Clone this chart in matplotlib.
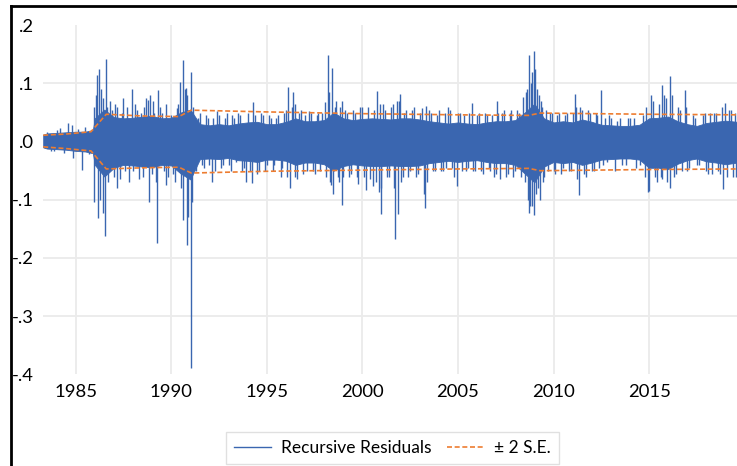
import numpy as np
import matplotlib.pyplot as plt
from matplotlib.lines import Line2D

plt.rcParams['font.family'] = ['Lato', 'DejaVu Sans']

BLUE = '#3A66B0'
ORANGE = '#ED7D31'
GRID = '#EBEBEB'

# dense core of the recursive residuals (upper / lower edge, half-year steps)
band_years = [1983.3, 1983.5, 1984.0, 1984.5, 1985.0, 1985.5, 1985.9, 1986.0, 1986.5, 1987.0,
              1987.5, 1988.0, 1988.5, 1989.0, 1989.5, 1990.0, 1990.5, 1991.0, 1991.5, 1992.0,
              1992.5, 1993.0, 1993.5, 1994.0, 1994.5, 1995.0, 1995.5, 1996.0, 1996.5, 1997.0,
              1997.5, 1998.0, 1998.5, 1999.0, 1999.5, 2000.0, 2000.5, 2001.0, 2001.5, 2002.0,
              2002.5, 2003.0, 2003.5, 2004.0, 2004.5, 2005.0, 2005.5, 2006.0, 2006.5, 2007.0,
              2007.5, 2008.0, 2008.5, 2009.0, 2009.5, 2010.0, 2010.5, 2011.0, 2011.5, 2012.0,
              2012.5, 2013.0, 2013.5, 2014.0, 2014.5, 2015.0, 2015.5, 2016.0, 2016.5, 2017.0,
              2017.5, 2018.0, 2018.5, 2019.0, 2019.6]
band_hi = [0.012, 0.014, 0.015, 0.016, 0.017, 0.017, 0.020, 0.040, 0.055, 0.042,
           0.040, 0.041, 0.043, 0.044, 0.040, 0.041, 0.050, 0.055, 0.030, 0.028,
           0.030, 0.028, 0.031, 0.033, 0.034, 0.030, 0.030, 0.034, 0.040, 0.035,
           0.035, 0.037, 0.050, 0.040, 0.037, 0.039, 0.040, 0.039, 0.038, 0.040,
           0.040, 0.038, 0.035, 0.033, 0.031, 0.033, 0.031, 0.030, 0.033, 0.035,
           0.035, 0.037, 0.050, 0.065, 0.040, 0.033, 0.035, 0.033, 0.038, 0.034,
           0.029, 0.028, 0.027, 0.027, 0.029, 0.040, 0.041, 0.043, 0.035, 0.030,
           0.027, 0.032, 0.034, 0.036, 0.034]
band_lo = [-0.010, -0.012, -0.013, -0.014, -0.016, -0.017, -0.020, -0.040, -0.060, -0.045,
           -0.040, -0.041, -0.043, -0.044, -0.040, -0.041, -0.055, -0.065, -0.030, -0.029,
           -0.030, -0.028, -0.032, -0.033, -0.035, -0.031, -0.031, -0.033, -0.040, -0.036,
           -0.036, -0.039, -0.050, -0.042, -0.039, -0.041, -0.042, -0.042, -0.041, -0.042,
           -0.042, -0.041, -0.037, -0.035, -0.033, -0.035, -0.033, -0.032, -0.035, -0.037,
           -0.037, -0.040, -0.055, -0.070, -0.043, -0.035, -0.037, -0.035, -0.040, -0.036,
           -0.031, -0.030, -0.029, -0.029, -0.031, -0.045, -0.045, -0.047, -0.038, -0.032,
           -0.029, -0.034, -0.036, -0.039, -0.036]

# individual large residuals
spike_years = [
    1983.5, 1983.7, 1983.87, 1984.0, 1984.18, 1984.4, 1984.61, 1984.79, 1984.87, 1985.1,
    1985.31, 1985.5, 1985.7, 1985.85,
    1985.97, 1985.97, 1986.05, 1986.13, 1986.18, 1986.24, 1986.28, 1986.32, 1986.41, 1986.45,
    1986.53, 1986.57, 1986.65, 1986.7, 1986.9, 1987.0, 1987.18, 1987.18, 1987.4, 1987.6,
    1987.93, 1988.0, 1988.2, 1988.4, 1988.5, 1988.8, 1988.84, 1988.89, 1989.0, 1989.1,
    1989.27, 1989.29, 1989.5, 1989.6, 1989.85, 1990.0, 1990.1, 1990.28, 1990.46, 1990.5,
    1990.6, 1990.63, 1990.7, 1990.76, 1990.81, 1990.85, 1990.9, 1991.03, 1991.05, 1991.1,
    1991.15,
    1991.4, 1991.6, 1991.8, 1992.0, 1992.12, 1992.2, 1992.38, 1992.6, 1992.8, 1993.0,
    1993.2, 1993.4, 1993.5, 1993.7, 1993.9, 1994.0, 1994.2, 1994.26, 1994.4, 1994.6,
    1994.8, 1995.0, 1995.2, 1995.4, 1995.6, 1995.73, 1995.9,
    1996.13, 1996.2, 1996.3, 1996.39, 1996.5, 1996.7, 1996.9, 1997.0, 1997.21, 1997.4,
    1997.6, 1997.8, 1997.9, 1998.04, 1998.19, 1998.3, 1998.4, 1998.45, 1998.6, 1998.7,
    1998.95, 1998.95, 1999.1,
    1999.3, 1999.5, 1999.76, 1999.9, 2000.18, 2000.3, 2000.54, 2000.6, 2000.78, 2000.87,
    2000.96, 2001.1, 2001.3, 2001.5, 2001.73, 2001.8, 2001.88, 2001.97, 2002.1, 2002.3,
    2002.5, 2002.7, 2002.9, 2003.1, 2003.2, 2003.28, 2003.35, 2003.6, 2003.8, 2004.0,
    2004.2, 2004.5, 2004.7, 2004.94, 2005.1, 2005.4, 2005.72, 2005.9, 2006.1, 2006.3,
    2006.5, 2006.7, 2007.0, 2007.03, 2007.3, 2007.5, 2007.8, 2008.0, 2008.2,
    2008.42, 2008.5, 2008.6, 2008.65, 2008.72, 2008.72, 2008.8, 2008.85, 2008.9, 2008.98,
    2008.98, 2009.05, 2009.1, 2009.15, 2009.3, 2009.35, 2009.5, 2009.6, 2009.8, 2010.0,
    2010.2, 2010.4, 2010.6, 2010.8, 2011.0, 2011.13, 2011.34, 2011.4, 2011.6, 2011.8,
    2012.0, 2012.2, 2012.49, 2012.6, 2012.9, 2013.2, 2013.5, 2013.8, 2014.0, 2014.3,
    2014.7, 2014.96, 2015.0, 2015.09, 2015.3, 2015.5, 2015.67, 2015.7, 2015.9, 2016.1,
    2016.1, 2016.3, 2016.5, 2016.88, 2017.0, 2017.3, 2017.6, 2017.9, 2018.1, 2018.4,
    2018.6, 2018.89, 2018.98, 2019.2, 2019.4, 2019.5,
]
spike_vals = [
    0.016, -0.016, -0.017, 0.020, 0.023, -0.020, 0.032, 0.029, -0.029, 0.022,
    -0.049, 0.025, -0.022, 0.020,
    0.059, -0.103, 0.080, 0.115, -0.132, 0.124, -0.100, 0.090, -0.123, 0.075,
    -0.162, 0.142, 0.060, -0.070, 0.055, -0.060, -0.080, 0.060, 0.050, -0.050,
    0.091, -0.050, 0.055, 0.050, -0.060, 0.072, -0.103, 0.080, -0.055, 0.050,
    -0.175, 0.089, 0.050, -0.050, -0.060, 0.045, -0.055, 0.057, 0.103, -0.080,
    0.140, -0.135, 0.090, 0.092, -0.178, 0.080, -0.130, 0.120, -0.389, -0.103,
    0.060,
    0.040, -0.040, 0.045, -0.040, -0.070, 0.040, 0.052, -0.045, 0.040, -0.040,
    0.045, -0.035, 0.050, -0.050, -0.069, 0.050, -0.071, 0.068, 0.045, -0.050,
    0.045, -0.040, 0.040, -0.040, 0.045, -0.061, 0.050,
    0.094, -0.079, 0.060, 0.085, -0.060, 0.050, -0.055, 0.045, 0.053, -0.050,
    0.045, -0.050, 0.050, 0.068, 0.149, -0.070, 0.126, -0.090, 0.070, -0.060,
    -0.109, 0.069, 0.055,
    -0.060, 0.055, -0.072, 0.060, -0.084, 0.060, -0.077, 0.055, 0.087, -0.087,
    -0.124, 0.064, -0.060, 0.060, -0.168, 0.070, -0.124, 0.082, -0.060, 0.055,
    -0.050, 0.060, -0.055, 0.058, -0.090, -0.114, 0.062, 0.050, -0.050, 0.055,
    -0.050, 0.060, -0.045, -0.077, 0.050, -0.050, 0.066, -0.050, 0.050, -0.055,
    0.045, -0.050, -0.055, 0.069, 0.050, -0.060, 0.055, -0.050, 0.050,
    0.077, -0.070, 0.090, -0.100, 0.149, -0.122, 0.100, -0.110, 0.120, 0.155,
    -0.126, 0.125, -0.090, 0.090, -0.100, 0.070, -0.060, 0.055, 0.050, -0.050,
    0.045, -0.055, 0.045, -0.050, 0.050, 0.082, -0.092, 0.060, -0.055, 0.055,
    -0.050, 0.050, 0.089, -0.040, 0.045, -0.050, 0.040, -0.040, 0.040, -0.045,
    0.045, -0.086, -0.085, 0.080, -0.060, 0.065, 0.097, -0.065, 0.075, 0.112,
    -0.080, -0.060, 0.060, 0.088, -0.050, 0.045, -0.040, 0.050, -0.055, 0.050,
    -0.050, -0.081, 0.067, 0.055, -0.060, 0.050,
]

# smaller residuals poking out of the dense core
minor_years = [
    1986.8, 1987.05, 1987.3, 1987.5, 1987.7, 1987.8, 1988.1, 1988.3, 1988.6, 1988.7,
    1989.05, 1989.2, 1989.4, 1989.7, 1989.75, 1990.2, 1990.35,
    1991.3, 1991.5, 1991.7, 1991.9, 1992.3, 1992.5, 1992.7, 1992.9, 1993.1, 1993.3,
    1993.6, 1993.8, 1994.1, 1994.5, 1994.7, 1994.9, 1995.1, 1995.3, 1995.5, 1995.8,
    1996.0, 1996.05, 1996.45, 1996.6, 1996.8, 1997.1, 1997.3, 1997.5, 1997.7, 1998.1,
    1998.25, 1998.35, 1998.55, 1998.8, 1998.85, 1999.0, 1999.2, 1999.4, 1999.6, 1999.7,
    2000.0, 2000.1, 2000.4, 2000.7, 2000.9, 2001.0, 2001.2, 2001.4, 2001.6, 2001.65,
    2001.9, 2002.0, 2002.2, 2002.4, 2002.6, 2002.8, 2003.0, 2003.4, 2003.5, 2003.7,
    2003.9, 2004.1, 2004.3, 2004.4, 2004.6, 2004.8, 2005.0, 2005.2, 2005.3, 2005.5,
    2005.6, 2005.8, 2006.0, 2006.2, 2006.4, 2006.6, 2006.8, 2006.9, 2007.1, 2007.2,
    2007.4, 2007.6, 2007.7, 2007.9, 2008.1, 2008.3, 2008.55, 2008.75, 2009.2, 2009.25,
    2009.4, 2009.45, 2009.7, 2009.9, 2010.1, 2010.3, 2010.5, 2010.7, 2010.9, 2011.2,
    2011.25, 2011.5, 2011.7, 2011.9, 2012.1, 2012.3, 2012.4, 2012.7, 2012.8, 2013.0,
    2013.3, 2013.6, 2013.9, 2014.2, 2014.5, 2014.8, 2014.85, 2015.2, 2015.4, 2015.6,
    2015.8, 2015.95, 2016.2, 2016.4, 2016.6, 2016.7, 2016.95, 2017.1, 2017.4, 2017.5,
    2017.8, 2018.0, 2018.2, 2018.3, 2018.5, 2018.7, 2018.8, 2019.1, 2019.3, 2019.55,
]
minor_vals = [
    0.070, 0.065, -0.065, 0.075, 0.060, -0.070, 0.065, -0.065, 0.060, 0.075,
    0.070, -0.070, 0.060, 0.065, -0.075, -0.070, 0.065,
    -0.050, 0.050, -0.045, 0.040, -0.050, 0.045, -0.040, 0.050, -0.050, 0.040,
    0.045, -0.045, -0.050, -0.055, 0.050, -0.050, 0.045, -0.050, 0.040, -0.045,
    0.055, -0.060, 0.065, -0.065, 0.055, -0.050, 0.050, -0.055, 0.050, -0.060,
    0.085, -0.075, 0.060, -0.070, 0.060, -0.060, 0.050, -0.055, 0.050, -0.060,
    0.060, -0.060, -0.065, -0.070, 0.065, -0.080, 0.055, -0.060, 0.065, -0.080,
    0.070, -0.070, 0.050, -0.060, 0.055, -0.060, 0.050, -0.070, 0.055, -0.050,
    0.045, -0.050, 0.050, -0.045, 0.055, -0.060, 0.050, -0.050, 0.045, -0.045,
    0.050, -0.050, 0.045, -0.050, 0.050, -0.045, 0.045, -0.060, 0.050, -0.065,
    0.055, -0.055, 0.050, -0.060, 0.055, -0.060, 0.085, -0.110, -0.080, 0.080,
    0.060, -0.070, -0.050, 0.050, -0.055, 0.050, -0.045, 0.050, -0.050, 0.060,
    -0.065, 0.055, -0.060, 0.050, -0.050, 0.045, -0.045, 0.040, -0.035, 0.040,
    0.035, -0.040, 0.040, 0.040, -0.040, -0.060, 0.060, 0.070, -0.070, -0.060,
    0.080, -0.070, 0.080, -0.055, 0.055, -0.050, 0.060, -0.045, 0.040, -0.040,
    0.045, -0.050, 0.050, -0.055, 0.050, -0.055, 0.060, -0.060, 0.055, -0.060,
]

# +/- 2 standard error bounds
se_years = [1983.3, 1984.5, 1985.8, 1986.6, 1988.5, 1990.4, 1991.05, 1995.0, 2000.0,
            2005.0, 2008.7, 2009.3, 2015.0, 2019.6]
se_upper = [0.011, 0.013, 0.017, 0.047, 0.044, 0.043, 0.054, 0.051, 0.048,
            0.046, 0.045, 0.049, 0.047, 0.046]
se_lower = [-0.009, -0.012, -0.016, -0.047, -0.045, -0.044, -0.054, -0.051, -0.049,
            -0.047, -0.046, -0.050, -0.048, -0.047]

year_ticks = [1985, 1990, 1995, 2000, 2005, 2010, 2015]
y_ticks = [0.2, 0.1, 0.0, -0.1, -0.2, -0.3, -0.4]
y_labels = ['.2', '.1', '.0', '-.1', '-.2', '-.3', '-.4']

W, H = 737, 466
fig = plt.figure(figsize=(W / 100, H / 100), dpi=100)
ax = fig.add_axes([43 / W, 1 - 374.4 / H, (W - 43) / W, (374.4 - 25.2) / H])

for yr in year_ticks:
    ax.axvline(yr, color=GRID, lw=1.3, zorder=0)
for v in [0.1, -0.1, -0.2, -0.3]:
    ax.axhline(v, color=GRID, lw=1.3, zorder=0)

ax.fill_between(band_years, band_lo, band_hi, color=BLUE, lw=0.6, zorder=2)
ax.vlines(spike_years, 0, spike_vals, color=BLUE, lw=1.0, zorder=2)
ax.vlines(minor_years, 0, minor_vals, color=BLUE, lw=1.0, zorder=2)

ax.plot(se_years, se_upper, color=ORANGE, lw=1.2, dashes=(3, 1.6), zorder=3)
ax.plot(se_years, se_lower, color=ORANGE, lw=1.2, dashes=(3, 1.6), zorder=3)

ax.set_xlim(1983.29, 2019.6)
ax.set_ylim(-0.4, 0.2)
ax.set_xticks(year_ticks)
ax.set_yticks(y_ticks)
ax.set_yticklabels(y_labels)
ax.tick_params(length=0, labelsize=13.3, colors='black')
ax.tick_params(axis='y', pad=6.5)
ax.tick_params(axis='x', pad=7)
for s in ax.spines.values():
    s.set_visible(False)

handles = [Line2D([], [], color=BLUE, lw=1.0),
           Line2D([], [], color=ORANGE, lw=1.2, dashes=(3, 1.6))]
leg = fig.legend(handles, ['Recursive Residuals', '\u00b1 2 S.E.'],
                 loc='center', bbox_to_anchor=(392.5 / W, 1 - 448 / H),
                 ncol=2, fontsize=12.5, frameon=True, fancybox=False,
                 handlelength=2.1, handletextpad=0.6, columnspacing=0.9,
                 borderpad=0.45)
leg.get_frame().set_edgecolor('#D9D9D9')
leg.get_frame().set_linewidth(1.0)

# outer frame (left and top edges)
fig.add_artist(Line2D([11 / W, 11 / W], [0, 1 - 6 / H], color='black', lw=2.0,
                      transform=fig.transFigure))
fig.add_artist(Line2D([11 / W, 1], [1 - 6 / H, 1 - 6 / H], color='black', lw=2.0,
                      transform=fig.transFigure))

fig.savefig('out.png', dpi=100)
